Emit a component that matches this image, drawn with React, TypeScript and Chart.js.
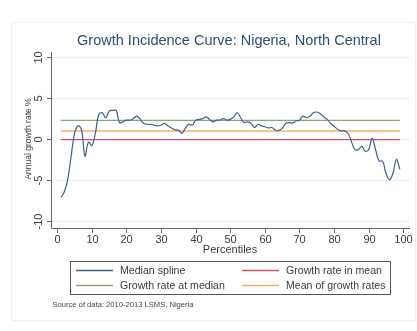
import React, { useEffect, useRef } from "react";
import { Chart, registerables } from "chart.js";

Chart.register(...registerables);

// Percentile groups (x) and the smoothed median growth rate (y, annual %)
const percentiles = [
  1, 2, 3, 4, 5, 6, 7, 8, 9, 10,
  11, 12, 13, 14, 15, 16, 17, 18, 19, 20,
  21, 22, 23, 24, 25, 26, 27, 28, 29, 30,
  31, 32, 33, 34, 35, 36, 37, 38, 39, 40,
  41, 42, 43, 44, 45, 46, 47, 48, 49, 50,
  51, 52, 53, 54, 55, 56, 57, 58, 59, 60,
  61, 62, 63, 64, 65, 66, 67, 68, 69, 70,
  71, 72, 73, 74, 75, 76, 77, 78, 79, 80,
  81, 82, 83, 84, 85, 86, 87, 88, 89, 90,
  91, 92, 93, 94, 95, 96, 97, 98, 99,
];

const medianSpline = [
  -7.2, -6.5, -5.0, -2.1, 0.7, 1.6, 1.1, -2.1, -0.4, -0.8,
  0.7, 3.0, 3.2, 2.6, 3.4, 3.5, 3.5, 2.0, 2.1, 2.3,
  2.3, 2.5, 2.8, 2.4, 1.9, 1.8, 1.8, 1.7, 1.6, 1.7,
  1.9, 1.6, 1.35, 1.1, 1.1, 0.7, 1.3, 1.8, 1.7, 2.3,
  2.4, 2.5, 2.7, 2.4, 2.1, 2.3, 2.3, 2.5, 2.3, 2.4,
  2.7, 3.2, 2.6, 2.0, 2.1, 1.9, 1.4, 1.8, 1.6, 1.5,
  1.35, 1.4, 1.1, 1.05, 1.3, 1.9, 2.0, 1.95, 2.2, 2.3,
  2.8, 2.6, 2.8, 3.2, 3.3, 3.1, 2.7, 2.4, 1.9, 1.55,
  1.2, 1.0, 1.0, 0.7, -0.3, -1.3, -1.3, -0.9, -1.5, -1.3,
  0.1, -1.3, -2.7, -2.7, -4.2, -5.0, -4.2, -2.5, -3.7,
];

const growthRateInMean = -0.07;
const growthRateAtMedian = 2.28;
const meanOfGrowthRates = 0.98;

const xTicks = [0, 10, 20, 30, 40, 50, 60, 70, 80, 90, 100];
const yTicks = [-10, -5, 0, 5, 10];

const titleText = "Growth Incidence Curve: Nigeria, North Central";
const xAxisTitle = "Percentiles";
const yAxisTitle = "Annual growth rate %";
const sourceText = "Source of data: 2010-2013 LSMS, Nigeria";

const seriesNames = [
  "Median spline",
  "Growth rate in mean",
  "Growth rate at median",
  "Mean of growth rates",
];

const COLORS = {
  spline: "#3f6186",
  mean: "#c05a66",
  median: "#8ca57a",
  meanRates: "#f3b266",
  axis: "#666666",
  text: "#3c3c3c",
  title: "#2f4d70",
  grid: "#eaf0f2",
};

const FONT = "'Liberation Sans', Arial, sans-serif";

const flat = (v: number) => [
  { x: percentiles[0], y: v },
  { x: percentiles[percentiles.length - 1], y: v },
];

const decor = {
  id: "decor",
  beforeDatasetsDraw(chart: any) {
    const { ctx, chartArea, scales } = chart;
    const { left, right } = chartArea;
    const y = scales.y;
    ctx.save();
    ctx.strokeStyle = COLORS.grid;
    ctx.lineWidth = 1;
    for (const v of yTicks) {
      const py = Math.round(y.getPixelForValue(v)) + 0.5;
      ctx.beginPath();
      ctx.moveTo(left, py);
      ctx.lineTo(right, py);
      ctx.stroke();
    }
    ctx.restore();
  },
  afterDraw(chart: any) {
    const { ctx, chartArea, scales, width } = chart;
    const { left, right, top, bottom } = chartArea;
    const x = scales.x;
    const y = scales.y;
    ctx.save();

    // faint outer frame
    ctx.strokeStyle = "#f1f1f1";
    ctx.lineWidth = 1;
    ctx.strokeRect(11.5, 22.5, width - 13, 298);

    // axes
    ctx.strokeStyle = COLORS.axis;
    ctx.lineWidth = 1;
    ctx.beginPath();
    ctx.moveTo(Math.round(left) - 0.5, top);
    ctx.lineTo(Math.round(left) - 0.5, Math.round(bottom) + 0.5);
    ctx.lineTo(right, Math.round(bottom) + 0.5);
    ctx.stroke();

    // x ticks and labels
    ctx.fillStyle = COLORS.text;
    ctx.font = `11px ${FONT}`;
    ctx.textAlign = "center";
    ctx.textBaseline = "middle";
    for (const v of xTicks) {
      const px = Math.round(x.getPixelForValue(v)) + 0.5;
      ctx.beginPath();
      ctx.moveTo(px, Math.round(bottom) + 0.5);
      ctx.lineTo(px, Math.round(bottom) + 5);
      ctx.stroke();
      ctx.fillText(String(v), px, bottom + 12);
    }
    ctx.fillText(xAxisTitle, (left + right) / 2 - 1, bottom + 22);

    // y ticks and rotated labels
    for (const v of yTicks) {
      const py = Math.round(y.getPixelForValue(v)) + 0.5;
      ctx.beginPath();
      ctx.moveTo(Math.round(left) - 0.5, py);
      ctx.lineTo(Math.round(left) - 5, py);
      ctx.stroke();
      ctx.save();
      ctx.translate(left - 13, py);
      ctx.rotate(-Math.PI / 2);
      ctx.fillText(String(v), 0, 0);
      ctx.restore();
    }
    ctx.save();
    ctx.font = `8.5px ${FONT}`;
    ctx.translate(29, y.getPixelForValue(0));
    ctx.rotate(-Math.PI / 2);
    ctx.fillText(yAxisTitle, 0, 0);
    ctx.restore();

    // title
    ctx.fillStyle = COLORS.title;
    ctx.font = `14.5px ${FONT}`;
    ctx.fillText(titleText, 229, 41);

    // legend box
    const bx = 70.5, by = 261.5, bw = 320, bh = 33;
    ctx.strokeStyle = "#555555";
    ctx.strokeRect(bx, by, bw, bh);
    const entries = [
      { name: seriesNames[0], color: COLORS.spline, col: 0, row: 0 },
      { name: seriesNames[1], color: COLORS.mean, col: 1, row: 0 },
      { name: seriesNames[2], color: COLORS.median, col: 0, row: 1 },
      { name: seriesNames[3], color: COLORS.meanRates, col: 1, row: 1 },
    ];
    ctx.font = `10.6px ${FONT}`;
    ctx.textAlign = "left";
    for (const e of entries) {
      const lx = e.col === 0 ? 76 : 242;
      const ly = e.row === 0 ? 270.5 : 285.5;
      ctx.strokeStyle = e.color;
      ctx.lineWidth = 1.3;
      ctx.beginPath();
      ctx.moveTo(lx, ly);
      ctx.lineTo(lx + 37, ly);
      ctx.stroke();
      ctx.fillStyle = COLORS.text;
      ctx.fillText(e.name, lx + 44, ly + 0.5);
    }

    // source note
    ctx.font = `7.6px ${FONT}`;
    ctx.fillStyle = "#444444";
    ctx.fillText(sourceText, 52.5, 304.5);

    ctx.restore();
  },
};

export default function App() {
  const canvasRef = useRef<HTMLCanvasElement | null>(null);

  useEffect(() => {
    const canvas = canvasRef.current;
    if (!canvas) return;
    const chart = new Chart(canvas, {
      type: "line",
      data: {
        datasets: [
          {
            label: seriesNames[0],
            data: percentiles.map((p, i) => ({ x: p, y: medianSpline[i] })),
            borderColor: COLORS.spline,
            borderWidth: 1.2,
            pointRadius: 0,
            tension: 0.4,
            order: 0,
          },
          {
            label: seriesNames[1],
            data: flat(growthRateInMean),
            borderColor: COLORS.mean,
            borderWidth: 1.3,
            pointRadius: 0,
            order: 1,
          },
          {
            label: seriesNames[2],
            data: flat(growthRateAtMedian),
            borderColor: COLORS.median,
            borderWidth: 1.3,
            pointRadius: 0,
            order: 1,
          },
          {
            label: seriesNames[3],
            data: flat(meanOfGrowthRates),
            borderColor: COLORS.meanRates,
            borderWidth: 1.3,
            pointRadius: 0,
            order: 1,
          },
        ],
      },
      options: {
        responsive: false,
        animation: false,
        events: [],
        layout: { padding: { left: 52, top: 52, right: 7, bottom: 103 } },
        plugins: {
          legend: { display: false },
          title: { display: false },
          tooltip: { enabled: false },
        },
        scales: {
          x: {
            type: "linear",
            min: -1.53,
            max: 101.94,
            grid: { display: false, drawTicks: false },
            border: { display: false },
            ticks: { display: false },
          },
          y: {
            type: "linear",
            min: -10.9,
            max: 10.65,
            grid: { display: false, drawTicks: false },
            border: { display: false },
            ticks: { display: false },
          },
        },
      },
      plugins: [decor],
    });
    return () => chart.destroy();
  }, []);

  return (
    <div style={{ position: "fixed", left: 0, top: 0, width: 417, height: 331, background: "#ffffff" }}>
      <canvas ref={canvasRef} width={417} height={331} style={{ display: "block" }} />
    </div>
  );
}
